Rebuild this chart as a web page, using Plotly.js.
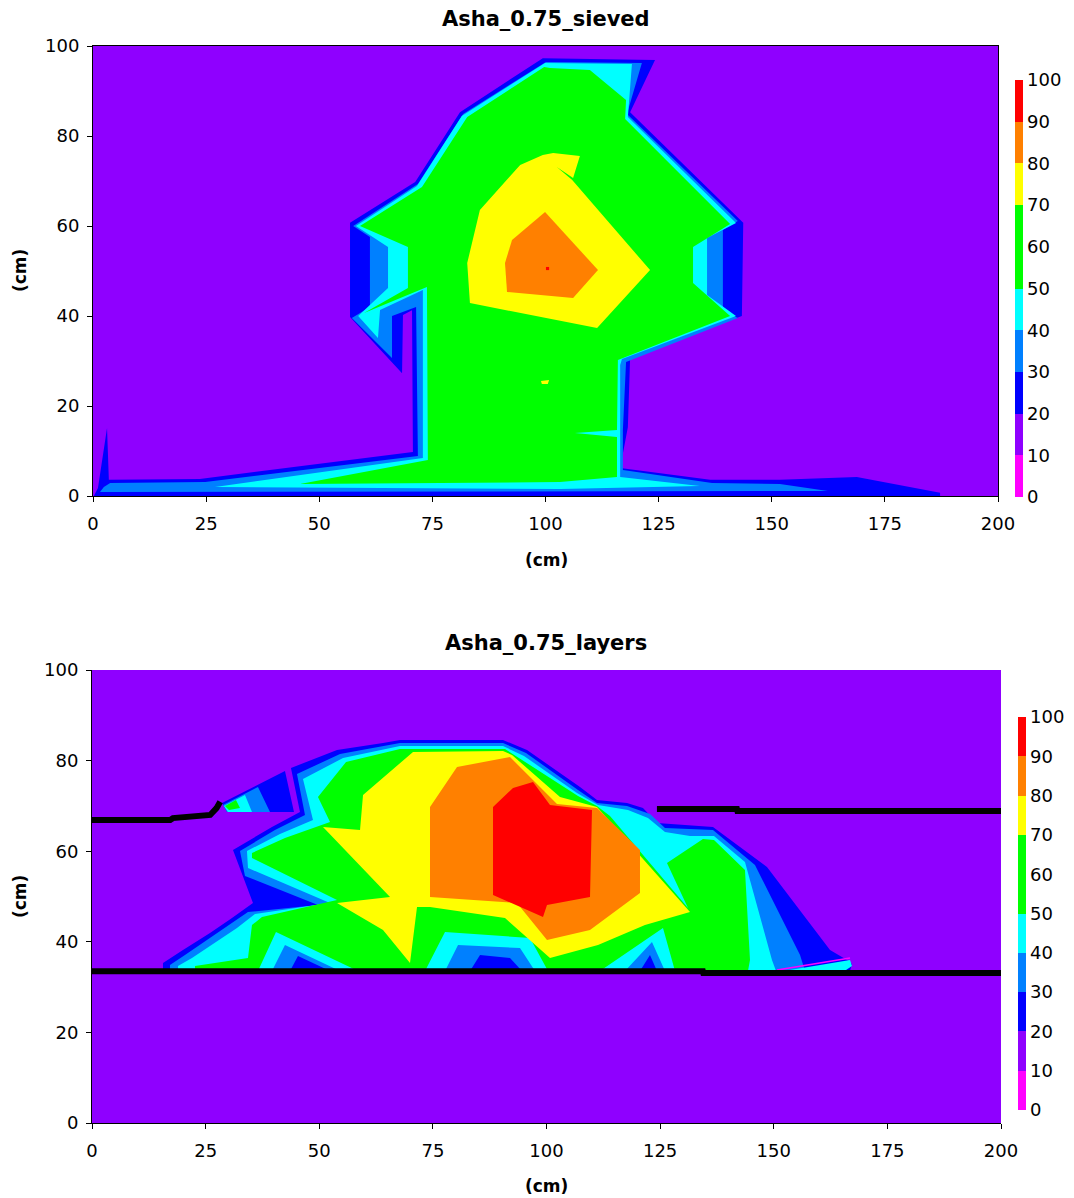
<!DOCTYPE html>
<html><head><meta charset="utf-8">
<script src="https://cdn.plot.ly/plotly-3.0.1.min.js"></script>
<style>html,body{margin:0;padding:0;background:#fff}#chart{width:1074px;height:1198px}</style>
</head><body><div id="chart"></div>
<script>
// ---------- shared scale ----------
const levelTicks = [0,10,20,30,40,50,60,70,80,90,100];
const bandColors = ['#FF00FF','#8F00FF','#0000FF','#0080FF','#00FFFF','#00FF00','#00FF00','#FFFF00','#FF8000','#FF0000'];
const xTicks = [0,25,50,75,100,125,150,175,200];
const yTicks = [0,20,40,60,80,100];

// ---------- chart 1: Asha_0.75_sieved (iso-boundaries of value >= level) ----------
const topL20x = [0.2,187.2,187.2,168.8,151.8,136.4,116.5,118.2,118.7,143.4,143.7,118.7,124.2,99.4,81.1,71.2,56.8,56.8,68.3,68.5,70.5,70.7,23.6,3.5,3.1,1.1];
const topL20y = [0,0,0.7,4.2,3.6,3.6,6.2,15.3,30.7,40.0,60.7,85.3,96.9,97.3,85.3,69.8,60.7,39.8,27.3,40.2,41.3,9.8,3.8,3.6,15.1,1.8];
const topL30x = [1.55,162.4,151.8,136.8,117.1,117.1,117.8,142.5,139.2,139.2,142.5,118.0,121.3,100.1,81.8,71.8,57.5,61.2,61.2,57.2,66.08,66.08,71.4,71.8,24.8,3.8,2.4];
const topL30y = [0.89,1.11,2.67,2.89,5.78,14.67,29.78,39.56,41.33,59.11,61.11,84.89,96.22,96.44,84.89,69.33,60.0,57.56,42.0,39.56,30.67,40.0,42.0,8.89,3.11,2.89,2.0];
const topL40x = [26.96,103.2,134.1,116.5,116.5,116.9,142.1,135.7,135.7,142.1,118.2,119.1,99.9,81.5,71.6,58.1,65.2,65.2,58.6,62.98,63.43,72.9,72.9];
const topL40y = [2.0,1.56,2.22,4.22,29.11,30.44,40.0,44.67,57.33,60.67,84.22,96.0,96.22,84.44,68.89,60.0,55.33,46.22,40.0,35.11,41.33,45.78,8.44];
const topL50x = [45.75,103.2,115.8,115.8,106.5,115.8,116.0,140.8,132.6,132.6,140.8,117.6,117.8,109.8,101.0,99.7,82.7,72.7,59.0,69.6,69.6,59.9,73.8,74.0];
const topL50y = [2.67,3.11,4.22,13.11,14.0,14.67,30.22,40.0,47.33,55.33,60.44,83.78,88.0,94.67,95.11,95.33,84.22,68.67,60.0,55.33,46.22,40.67,46.44,8.0];
const topL70x = [99.4,101.7,107.6,106.1,102.5,105.9,123.1,111.4,83.3,82.7,85.5,94.4,null,99.0,100.8,100.5,99.2];
const topL70y = [75.78,76.22,75.56,70.67,73.11,70.22,50.22,37.33,42.89,51.78,63.56,73.56,null,25.56,25.78,24.89,24.89];
const topL80x = [92.6,99.9,111.6,106.1,91.5,91.05];
const topL80y = [56.89,63.11,50.22,44.0,45.33,51.78];
const topL90x = [100.1,100.8,100.8,100.1];
const topL90y = [50.9,50.9,50.2,50.2];

// ---------- chart 2: Asha_0.75_layers ----------
const botL20x = [15.62,166.78,167.22,166.12,162.38,148.51,136.63,124.31,121.23,117.71,111.11,107.37,95.71,90.43,67.77,64.03,53.91,43.78,45.76,39.60,31.02,35.42,30.80,25.96,20.02,15.62,null,28.60,42.46,44.44,29.70];
const botL20y = [33.55,33.55,35.10,35.98,38.19,56.51,65.34,66.23,69.54,70.64,71.30,74.17,82.34,84.55,84.55,83.89,82.34,78.37,68.65,65.34,60.26,48.57,45.25,41.94,38.19,35.32,null,70.64,77.70,68.65,68.65];
const botL30x = [17.16,43.56,45.32,52.37,83.17,85.37,91.97,94.61,120.57,122.77,124.31,156.88,155.78,145.87,136.63,126.07,122.77,117.71,111.11,106.93,95.49,90.43,67.77,54.57,45.10,46.86,40.26,32.56,33.66,49.72,34.32,29.26,20.46,17.16,null,28.82,36.52,39.16,29.70];
const botL30y = [33.55,33.55,36.87,33.55,33.55,37.09,36.42,33.55,33.55,37.09,33.55,33.55,37.09,56.95,64.68,65.12,68.21,69.98,70.64,73.51,81.68,83.89,83.89,81.46,77.04,67.99,64.68,60.04,54.53,48.12,46.58,43.05,37.09,34.88,null,70.20,74.17,68.65,68.65];
const botL40x = [18.92,39.60,42.46,54.57,77.67,80.53,94.17,97.47,117.27,123.21,126.07,150.50,149.61,143.67,136.85,131.57,126.07,122.33,117.93,111.33,106.71,95.05,90.43,67.77,55.23,46.42,48.62,41.36,34.10,34.32,52.37,35.86,31.90,22.00,18.92,null,29.04,33.66,35.20,29.92,null,153.58,166.78,167.22,165.90];
const botL40y = [33.55,33.55,39.29,33.55,33.55,39.29,38.63,33.55,33.55,39.96,33.55,33.55,35.98,57.62,63.36,63.36,64.24,67.33,69.09,70.20,72.85,81.02,83.22,83.22,80.57,75.94,66.89,63.80,60.04,56.29,48.57,46.14,43.05,36.42,34.66,null,69.98,72.41,68.65,68.65,null,33.77,35.98,34.66,33.77];
const botL50x = [22.66,36.52,40.48,58.53,73.27,77.67,96.37,100.33,111.77,125.63,128.27,144.33,144.77,143.67,136.85,134.43,126.51,131.13,113.97,111.11,106.93,90.87,67.77,55.89,49.72,52.37,42.46,35.20,35.20,53.91,37.40,35.20,34.32,22.66,null,29.26,31.68,32.56,30.14];
const botL50y = [33.55,33.55,42.16,33.55,33.55,42.16,40.84,33.55,33.55,43.05,33.55,33.55,35.98,55.85,62.47,62.69,57.40,47.46,67.77,69.98,72.19,82.56,82.56,79.69,71.96,66.45,62.91,59.60,58.50,49.23,45.47,43.71,36.42,34.66,null,69.98,71.30,69.54,69.09];
const botL70x = [70.63,90.43,92.41,102.97,111.11,131.57,121.67,111.33,100.77,90.87,74.37,71.51,69.97,64.03,53.91,65.57,50.83,58.97,59.63];
const botL70y = [81.90,82.12,81.24,71.96,69.76,46.58,43.71,39.29,36.42,45.25,47.68,47.68,35.32,42.60,48.57,49.89,65.34,64.68,72.41];
const botL80x = [74.37,80.31,91.97,102.31,111.11,120.57,120.57,109.57,100.11,93.51,74.37];
const botL80y = [69.76,78.59,80.79,70.42,69.54,60.26,50.77,42.60,40.40,48.57,49.89];
const botL90x = [88.23,92.63,97.03,100.77,110.01,109.57,100.11,99.23,88.23];
const botL90y = [69.76,73.95,75.28,70.20,69.09,49.89,48.12,45.47,50.33];
const botL0x = [150.72,166.78];
const botL0y = [33.77,36.42];
// layer boundary lines
const layerLowX = [0,134.4,134.5,200];
const layerLowY = [33.5,33.5,33.1,33.1];
const layerUpLeftX = [0,17.2,17.8,23.8,26.0,27.4,28.2];
const layerUpLeftY = [66.9,66.9,67.3,67.6,68.0,69.5,70.9];
const layerUpRightX = [124.3,141.9,142.0,200];
const layerUpRightY = [69.3,69.3,68.9,68.9];

// ---------- build ----------
const FONT = 'DejaVu Sans, Arial, sans-serif';
function band(level){ return bandColors[Math.min(9, Math.floor(level/10))]; }
function poly(x,y,level,xa,ya){
  return {type:'scatter',mode:'lines',x:x,y:y,xaxis:xa,yaxis:ya,fill:'toself',
    fillcolor:band(level),line:{width:0,color:band(level)},hoverinfo:'skip',showlegend:false};
}
function line(x,y,color,w,xa,ya){
  return {type:'scatter',mode:'lines',x:x,y:y,xaxis:xa,yaxis:ya,line:{color:color,width:w},hoverinfo:'skip',showlegend:false};
}
const cs = [];
bandColors.forEach((c,i)=>{ cs.push([i/10,c]); cs.push([(i+1)/10,c]); });
function scaleTrace(xa,ya,cx,cy,lenPx){
  return {type:'scatter',mode:'markers',x:[null,null],y:[null,null],xaxis:xa,yaxis:ya,hoverinfo:'skip',showlegend:false,
    marker:{color:[levelTicks[0],levelTicks[levelTicks.length-1]],cmin:0,cmax:100,colorscale:cs,showscale:true,
      colorbar:{xref:'container',yref:'container',x:cx,y:cy,xanchor:'left',yanchor:'top',
        lenmode:'pixels',len:lenPx,thickness:8,thicknessmode:'pixels',outlinewidth:0,xpad:0,ypad:0,
        tickvals:levelTicks,ticks:'',ticklen:0,tickfont:{family:FONT,size:18,color:'#000'}}}};
}

const data = [
  poly(topL20x,topL20y,20,'x','y'),
  poly(topL30x,topL30y,30,'x','y'),
  poly(topL40x,topL40y,40,'x','y'),
  poly(topL50x,topL50y,50,'x','y'),
  poly(topL70x,topL70y,70,'x','y'),
  poly(topL80x,topL80y,80,'x','y'),
  poly(topL90x,topL90y,90,'x','y'),
  scaleTrace('x','y',1015/1074,1-80/1198,417),
  poly(botL20x,botL20y,20,'x2','y2'),
  poly(botL30x,botL30y,30,'x2','y2'),
  poly(botL40x,botL40y,40,'x2','y2'),
  poly(botL50x,botL50y,50,'x2','y2'),
  poly(botL70x,botL70y,70,'x2','y2'),
  poly(botL80x,botL80y,80,'x2','y2'),
  poly(botL90x,botL90y,90,'x2','y2'),
  line(botL0x,botL0y,band(0),1.5,'x2','y2'),
  line(layerLowX,layerLowY,'#000',6,'x2','y2'),
  line(layerUpLeftX,layerUpLeftY,'#000',6,'x2','y2'),
  line(layerUpRightX,layerUpRightY,'#000',6,'x2','y2'),
  scaleTrace('x2','y2',1018/1074,1-717/1198,393)
];

const tickFont = {family:FONT,size:18,color:'#000'};
function xax(dom,anchor,mirror){
  return {domain:dom,anchor:anchor,range:[0,200],tickvals:xTicks,ticks:'outside',ticklen:5,tickcolor:'#000',
    showline:true,linecolor:'#000',linewidth:1,mirror:mirror,showgrid:false,zeroline:false,
    tickfont:tickFont,ticklabelstandoff:6,fixedrange:true};
}
function yax(dom,anchor,mirror){
  return {domain:dom,anchor:anchor,range:[0,100],tickvals:yTicks,ticks:'outside',ticklen:5,tickcolor:'#000',
    showline:true,linecolor:'#000',linewidth:1,mirror:mirror,showgrid:false,zeroline:false,
    tickfont:tickFont,ticklabelstandoff:4,fixedrange:true};
}
function ann(text,px,py,size,angle){
  return {text:text,xref:'paper',yref:'paper',x:px/1074,y:1-py/1198,xanchor:'center',yanchor:'middle',
    showarrow:false,textangle:angle||0,font:{family:FONT,size:size,color:'#000'}};
}
const layout = {
  width:1074,height:1198,margin:{l:0,r:0,t:0,b:0,autoexpand:false},
  paper_bgcolor:'#ffffff',plot_bgcolor:'#8F00FF',showlegend:false,
  xaxis:xax([93/1074,998/1074],'y',true),
  yaxis:yax([1-496/1198,1-46/1198],'x',true),
  xaxis2:xax([92/1074,1001/1074],'y2',false),
  yaxis2:yax([1-1123/1198,1-670/1198],'x2',false),
  annotations:[
    ann('<b>Asha_0.75_sieved</b>',546,19,21),
    ann('<b>(cm)</b>',546,560,17),
    ann('<b>(cm)</b>',20,271,17,-90),
    ann('<b>Asha_0.75_layers</b>',546,643,21),
    ann('<b>(cm)</b>',546,1186,17),
    ann('<b>(cm)</b>',20,897,17,-90)
  ]
};
Plotly.newPlot('chart',data,layout,{staticPlot:true,displayModeBar:false});
</script>
</body></html>
